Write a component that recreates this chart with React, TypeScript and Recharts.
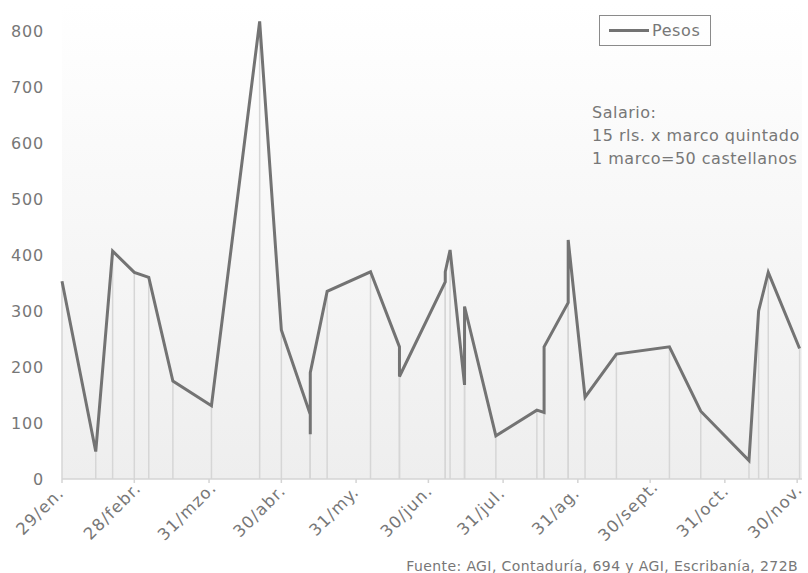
import { CartesianGrid, Line, LineChart, ReferenceLine, XAxis, YAxis } from "recharts";

// Días contados desde el 29 de enero (año no bisiesto)
const DAYS = [0, 14, 21, 30, 36, 46, 62, 82, 91, 103, 103, 103, 110, 128, 140, 140, 159, 159, 161, 167, 167, 180, 197, 200, 200, 210, 210, 217, 230, 252, 265, 285, 289, 293, 306];
const PESOS = [353, 49, 407, 369, 360, 175, 131, 817, 266, 115, 80, 190, 335, 370, 236, 183, 352, 370, 409, 168, 308, 77, 123, 119, 236, 315, 427, 146, 223, 236, 121, 33, 300, 369, 233];

const TICK_DAYS = [0, 30, 61, 91, 122, 152, 183, 214, 244, 275, 305];
const TICK_LABELS = ["29/en.", "28/febr.", "31/mzo.", "30/abr.", "31/my.", "30/jun.", "31/jul.", "31/ag.", "30/sept.", "31/oct.", "30/nov."];
const Y_TICKS = [0, 100, 200, 300, 400, 500, 600, 700, 800];

const NOTE_LINES = ["Salario:", "15 rls. x marco quintado", "1 marco=50 castellanos"];
const SOURCE = "Fuente: AGI, Contaduría, 694 y AGI, Escribanía, 272B";

const data = DAYS.map((day, i) => ({ day, pesos: PESOS[i] }));

const TEXT = "#777777";
const LINE = "#737373";

// etiquetas giradas 45°, centradas un poco a la izquierda de la marca
function DateTick({ x, y, payload }: { x?: number; y?: number; payload?: { value: number } }) {
  const idx = TICK_DAYS.indexOf(payload?.value ?? -1);
  const label = idx >= 0 ? TICK_LABELS[idx] : "";
  return (
    <g transform={`translate(${(x ?? 0) - 18},${(y ?? 0) + 30})`}>
      <text textAnchor="middle" transform="rotate(-45)" fill={TEXT} fontSize={16.5} letterSpacing={1.2}>
        {label}
      </text>
    </g>
  );
}

export default function App() {
  return (
    <div
      style={{
        position: "absolute",
        left: 0,
        top: 0,
        width: 808,
        height: 573,
        background: "#fff",
        fontFamily: '"DejaVu Sans", sans-serif',
      }}
    >
      <LineChart width={808} height={573} data={data} margin={{ top: 3, right: 6, bottom: 0, left: 0 }}>
        <defs>
          <linearGradient id="plotBg" x1="0" y1="0" x2="0" y2="1">
            <stop offset="0" stopColor="#ffffff" />
            <stop offset="1" stopColor="#eeeeee" />
          </linearGradient>
        </defs>
        <CartesianGrid horizontal={false} vertical={false} fill="url(#plotBg)" />
        <XAxis
          dataKey="day"
          type="number"
          domain={[0, 307]}
          ticks={TICK_DAYS}
          interval={0}
          height={94}
          stroke="#d4d4d4"
          strokeWidth={1.5}
          tickSize={4}
          tick={<DateTick />}
        />
        <YAxis
          type="number"
          domain={[0, 850]}
          ticks={Y_TICKS}
          width={62}
          axisLine={false}
          tickLine={false}
          tickMargin={12}
          tick={{ fill: TEXT, fontSize: 16, letterSpacing: 0.8 }}
        />
        {DAYS.map((d, i) => (
          <ReferenceLine
            key={i}
            segment={[
              { x: d, y: 0 },
              { x: d, y: PESOS[i] },
            ]}
            stroke="#d6d6d6"
            strokeWidth={1.5}
          />
        ))}
        <Line
          type="linear"
          dataKey="pesos"
          stroke={LINE}
          strokeWidth={3}
          dot={false}
          activeDot={false}
          isAnimationActive={false}
        />
      </LineChart>

      {/* Leyenda */}
      <div
        style={{
          position: "absolute",
          left: 599,
          top: 15,
          width: 110,
          height: 29,
          border: "1px solid #8a8a8a",
          display: "flex",
          alignItems: "center",
          color: TEXT,
          fontSize: 16,
          letterSpacing: 0.6,
        }}
      >
        <span style={{ display: "inline-block", width: 40, height: 3, background: LINE, marginLeft: 9, marginRight: 3 }} />
        Pesos
      </div>

      {/* Nota */}
      <div
        style={{
          position: "absolute",
          left: 592,
          top: 101,
          color: TEXT,
          fontSize: 16,
          lineHeight: "23px",
          letterSpacing: 0.5,
          whiteSpace: "nowrap",
        }}
      >
        {NOTE_LINES.map((l) => (
          <div key={l}>{l}</div>
        ))}
      </div>

      {/* Fuente */}
      <div
        style={{
          position: "absolute",
          right: 10,
          top: 556,
          color: TEXT,
          fontSize: 14,
          lineHeight: "20px",
          letterSpacing: 0.4,
          whiteSpace: "nowrap",
        }}
      >
        {SOURCE}
      </div>
    </div>
  );
}
